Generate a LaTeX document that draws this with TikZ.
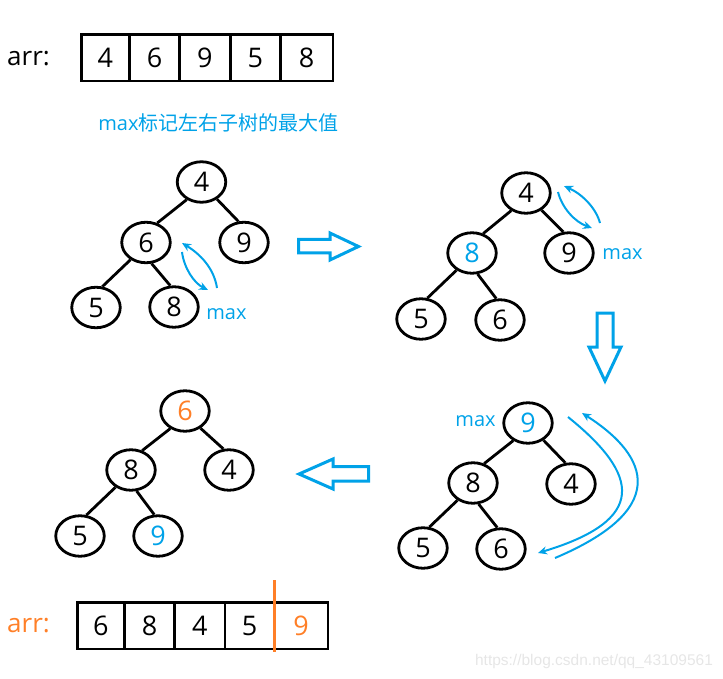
\documentclass[tikz,border=0pt]{standalone}
\usepackage{fontspec}
\setmainfont{Open Sans}
\newfontfamily\cjk{Noto Sans CJK SC}
\newfontfamily\wmfont{Liberation Sans}
\usetikzlibrary{shapes.geometric,arrows.meta}
\definecolor{pblue}{RGB}{0,162,232}
\definecolor{porange}{RGB}{255,127,39}
\definecolor{wmgray}{RGB}{230,230,230}
\begin{document}
\begin{tikzpicture}[x=1pt,y=-1pt,
  tn/.style={ellipse,draw,line width=2.8pt,minimum width=48.5pt,minimum height=40.5pt,inner sep=0pt,font=\fontsize{27}{30}\selectfont},
  edge/.style={line width=2.8pt},
  cell/.style={draw,line width=2.6pt,minimum height=46.3pt,inner sep=0pt,font=\fontsize{27}{30}\selectfont},
  lbl/.style={font=\fontsize{26}{30}\selectfont,inner sep=0pt,anchor=west},
  maxl/.style={text=pblue,font=\fontsize{20}{24}\selectfont,inner sep=0pt},
  carrow/.style={pblue,line width=2pt,-{Stealth[length=9pt,width=8pt]}},
  blk/.style={draw=pblue,line width=3pt,fill=white,line join=miter}
]
\useasboundingbox (0,0) rectangle (723,679);

% ---- top array ----
\node[lbl] (arrtop) at (7,58.5) {arr:};
\node[cell,minimum width=48.3pt] (t1) at (105.35,57.85) {4};
\node[cell,minimum width=50pt]   (t2) at (154.5,57.85) {6};
\node[cell,minimum width=50.8pt] (t3) at (204.9,57.85) {9};
\node[cell,minimum width=50.2pt] (t4) at (255.4,57.85) {5};
\node[cell,minimum width=52.3pt] (t5) at (306.65,57.85) {8};

\node[text=pblue,font=\fontsize{20}{24}\selectfont,inner sep=0pt] (caption) at (218.5,123) {max{\cjk 标记左右子树的最大值}};

% ---- tree 1 ----
\node[tn] (a4) at (201.5,182) {4};
\node[tn] (a6) at (146,242.5) {6};
\node[tn] (a9) at (244,242.5) {9};
\node[tn] (a5) at (96,307.5) {5};
\node[tn] (a8) at (174,307) {8};
\draw[edge] (a4.230) -- (a6.60);
\draw[edge] (a4.312) -- (a9.105);
\draw[edge] (a6.228) -- (a5.73);
\draw[edge] (a6.285) -- (a8.100);
\node[maxl] (max1) at (226.5,314) {max};
\draw[carrow] (217,288) .. controls (214,268) and (200,254) .. (182,243);
\draw[carrow] (182,252) .. controls (184,268) and (194,283) .. (208,290);

% right block arrow
\draw[blk] (298.5,239.5) -- (330,239.5) -- (330,233) -- (358.5,246.5) -- (330,260) -- (330,253) -- (298.5,253) -- cycle;

% ---- tree 2 ----
\node[tn] (b4) at (526,193) {4};
\node[tn,text=pblue] (b8) at (472,253) {8};
\node[tn] (b9) at (569,253) {9};
\node[tn] (b5) at (421,319) {5};
\node[tn] (b6) at (500,320) {6};
\draw[edge] (b4.230) -- (b8.60);
\draw[edge] (b4.312) -- (b9.105);
\draw[edge] (b8.228) -- (b5.73);
\draw[edge] (b8.285) -- (b6.100);
\node[maxl] (max2) at (622.5,254.5) {max};
\draw[carrow] (600,223) .. controls (596,208) and (582,194) .. (564,186);
\draw[carrow] (558,192) .. controls (562,208) and (575,222) .. (592,228);

% down block arrow
\draw[blk] (597,313) -- (613,313) -- (613,347) -- (621,347) -- (605,381) -- (589,347) -- (597,347) -- cycle;

% ---- tree 3 ----
\node[tn,text=pblue] (c9) at (528,423) {9};
\node[tn] (c8) at (473,483) {8};
\node[tn] (c4) at (571,484) {4};
\node[tn] (c5) at (423,548) {5};
\node[tn] (c6) at (501,549) {6};
\draw[edge] (c9.230) -- (c8.60);
\draw[edge] (c9.312) -- (c4.105);
\draw[edge] (c8.228) -- (c5.73);
\draw[edge] (c8.285) -- (c6.100);
\node[maxl] (max3) at (475.5,421) {max};
\draw[carrow] (568,417) .. controls (640,475) and (648,520) .. (538,553);
\draw[carrow] (555,558) .. controls (680,505) and (640,450) .. (582,413);

% left block arrow
\draw[blk] (299,474) -- (333,459) -- (333,466.5) -- (368.5,466.5) -- (368.5,481) -- (333,481) -- (333,489) -- cycle;

% ---- tree 4 ----
\node[tn,text=porange] (d6) at (185,411) {6};
\node[tn] (d8) at (131,470) {8};
\node[tn] (d4) at (229,470) {4};
\node[tn] (d5) at (80,536) {5};
\node[tn,text=pblue] (d9) at (158,536) {9};
\draw[edge] (d6.230) -- (d8.60);
\draw[edge] (d6.312) -- (d4.105);
\draw[edge] (d8.228) -- (d5.73);
\draw[edge] (d8.285) -- (d9.100);

% ---- bottom array ----
\node[lbl,text=porange] (arrbot) at (7,625.5) {arr:};
\node[cell,minimum width=47.3pt] (u1) at (100.85,625.8) {6};
\node[cell,minimum width=50pt]   (u2) at (149.5,625.8) {8};
\node[cell,minimum width=50.5pt] (u3) at (199.75,625.8) {4};
\node[cell,minimum width=49.3pt] (u4) at (249.65,625.8) {5};
\node[cell,minimum width=53.5pt,text=porange] (u5) at (301.05,625.8) {9};
\coordinate (sepT) at (274.3,580);
\coordinate (sepB) at (274.3,651.7);
\draw[porange,line width=2.6pt] (sepT) -- (sepB);

% watermark
\node[text=wmgray,font=\wmfont\fontsize{15.5}{18}\selectfont,inner sep=0pt] (wm) at (594,661) {https://blog.csdn.net/qq\_43109561};
\end{tikzpicture}
\end{document}
